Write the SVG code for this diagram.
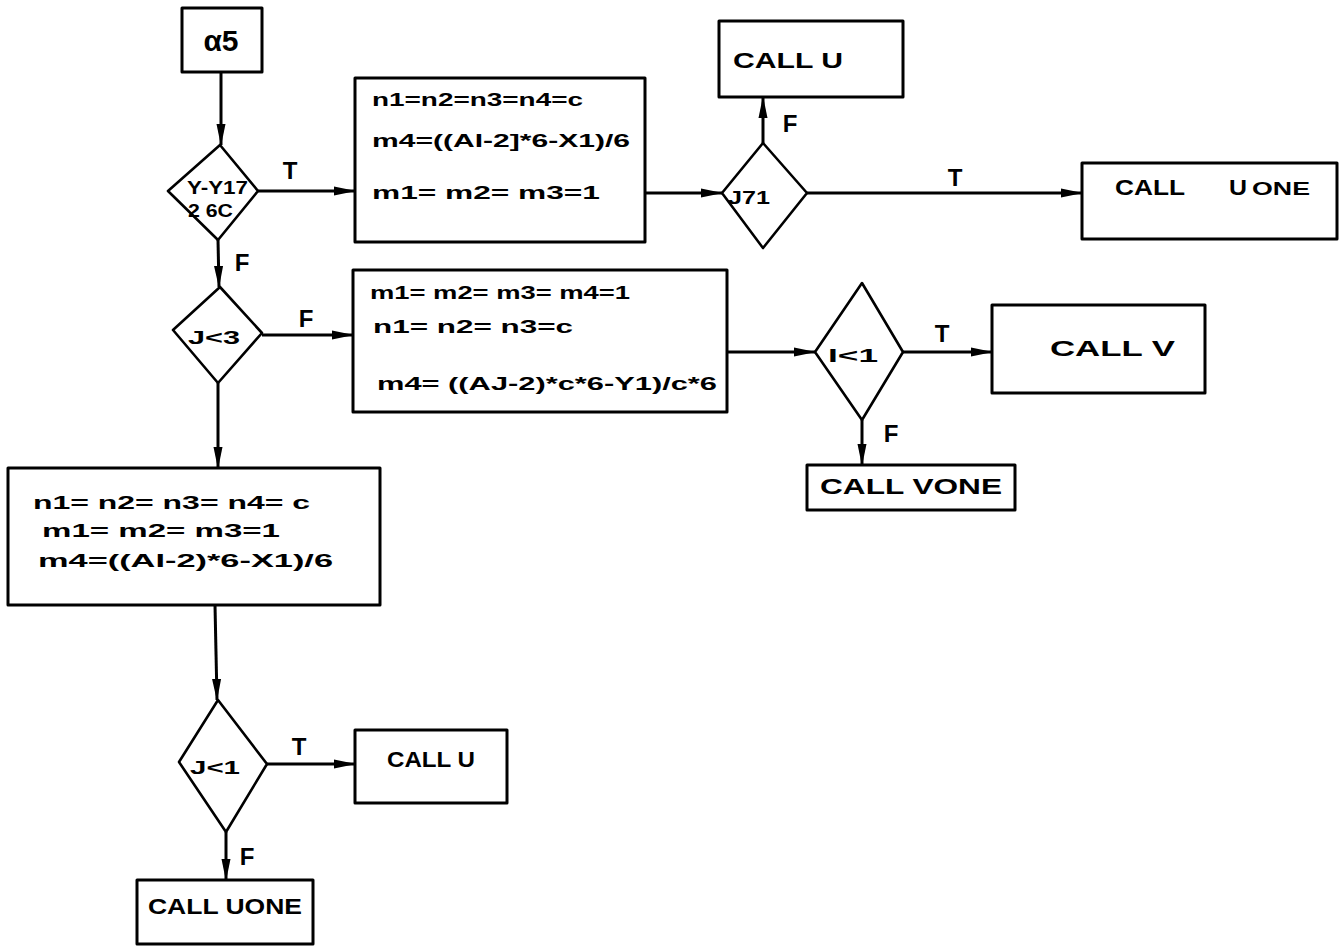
<svg xmlns="http://www.w3.org/2000/svg" width="1340" height="946" viewBox="0 0 1340 946">
  <defs>
    <marker id="arr" markerWidth="22" markerHeight="11" refX="21" refY="5.5" orient="auto" markerUnits="userSpaceOnUse">
      <path d="M0,1 L22,5.5 L0,10 z" fill="#000"/>
    </marker>
    <style>
      .box{fill:none;stroke:#000;stroke-width:3;stroke-linejoin:round}
      .dia{fill:none;stroke:#000;stroke-width:2.6;stroke-linejoin:round}
      .edge{fill:none;stroke:#000;stroke-width:3;marker-end:url(#arr)}
      .t{font-family:"Liberation Sans",Arial,sans-serif;font-weight:bold;fill:#000}
      .eq{font-size:18px}
      .call{font-size:22px}
      .cond{font-size:18px}
      .lbl{font-size:24px}
    </style>
  </defs>
  <rect width="1340" height="946" fill="#fff"/>

  <!-- connectors -->
  <g id="connectors">
    <path class="edge" d="M221,72 L221,145"/>
    <path class="edge" d="M258,191 L355,191"/>
    <path class="edge" d="M218,240 L219,287"/>
    <path class="edge" d="M645,193 L722,193"/>
    <path class="edge" d="M763,143 L763,97"/>
    <path class="edge" d="M807,193 L1082,193"/>
    <path class="edge" d="M262,335 L353,335"/>
    <path class="edge" d="M727,352 L815,352"/>
    <path class="edge" d="M903,352 L992,352"/>
    <path class="edge" d="M862,420 L862,465"/>
    <path class="edge" d="M218,383 L218,468"/>
    <path class="edge" d="M215,605 L217,700"/>
    <path class="edge" d="M267,764 L355,764"/>
    <path class="edge" d="M226,832 L226,880"/>
    <g class="t lbl">
      <text x="290" y="179" text-anchor="middle">T</text>
      <text x="242" y="271" text-anchor="middle">F</text>
      <text x="790" y="132" text-anchor="middle">F</text>
      <text x="955" y="186" text-anchor="middle">T</text>
      <text x="306" y="327" text-anchor="middle">F</text>
      <text x="942" y="342" text-anchor="middle">T</text>
      <text x="891" y="442" text-anchor="middle">F</text>
      <text x="299" y="755" text-anchor="middle">T</text>
      <text x="247" y="865" text-anchor="middle">F</text>
    </g>
  </g>

  <!-- entry -->
  <g id="start-a5">
    <rect class="box" x="182" y="8" width="80" height="64"/>
    <text class="t" x="221" y="51" font-size="30" text-anchor="middle">α5</text>
  </g>

  <!-- decision: Y-Y1 -->
  <g id="dec-y">
    <polygon class="dia" points="220,145 258,191 218,240 168,191"/>
    <text class="t cond" x="187" y="194" textLength="61" lengthAdjust="spacingAndGlyphs">Y-Y17</text>
    <text class="t cond" x="188" y="217" textLength="45" lengthAdjust="spacingAndGlyphs">2 6C</text>
  </g>

  <g id="proc-1">
    <rect class="box" x="355" y="78" width="290" height="164"/>
    <text class="t eq" x="372" y="106" textLength="211" lengthAdjust="spacingAndGlyphs">n1=n2=n3=n4=c</text>
    <text class="t eq" x="372" y="147" textLength="258" lengthAdjust="spacingAndGlyphs">m4=((AI-2]*6-X1)/6</text>
    <text class="t eq" x="372" y="199" textLength="228" lengthAdjust="spacingAndGlyphs">m1= m2= m3=1</text>
  </g>

  <g id="dec-j71">
    <polygon class="dia" points="763,143 807,193 763,248 722,193"/>
    <text class="t cond" x="728" y="204" font-size="20" textLength="42" lengthAdjust="spacingAndGlyphs">J71</text>
  </g>

  <g id="call-u-top">
    <rect class="box" x="719" y="21" width="184" height="76"/>
    <text class="t call" x="733" y="68" textLength="110" lengthAdjust="spacingAndGlyphs">CALL U</text>
  </g>

  <g id="call-uone-top">
    <rect class="box" x="1082" y="163" width="255" height="76"/>
    <text class="t call" y="195"><tspan x="1115" textLength="70" lengthAdjust="spacingAndGlyphs">CALL</tspan><tspan x="1229" textLength="18" lengthAdjust="spacingAndGlyphs">U</tspan><tspan x="1252" font-size="18" textLength="58" lengthAdjust="spacingAndGlyphs">ONE</tspan></text>
  </g>

  <g id="dec-j3">
    <polygon class="dia" points="220,287 262,333 218,383 173,330"/>
    <text class="t cond" x="188" y="344" font-size="20" textLength="52" lengthAdjust="spacingAndGlyphs">J&lt;3</text>
  </g>

  <g id="proc-2">
    <rect class="box" x="353" y="270" width="374" height="142"/>
    <text class="t eq" x="370" y="299" textLength="260" lengthAdjust="spacingAndGlyphs">m1= m2= m3= m4=1</text>
    <text class="t eq" x="373" y="333" textLength="200" lengthAdjust="spacingAndGlyphs">n1= n2= n3=c</text>
    <text class="t eq" x="377" y="390" font-size="20" textLength="340" lengthAdjust="spacingAndGlyphs">m4= ((AJ-2)*c*6-Y1)/c*6</text>
  </g>

  <g id="dec-i1">
    <polygon class="dia" points="862,283 903,352 862,420 815,352"/>
    <text class="t cond" x="828" y="362" font-size="20" textLength="50" lengthAdjust="spacingAndGlyphs">I&lt;1</text>
  </g>

  <g id="call-v">
    <rect class="box" x="992" y="305" width="213" height="88"/>
    <text class="t call" x="1050" y="356" textLength="125" lengthAdjust="spacingAndGlyphs">CALL  V</text>
  </g>

  <g id="call-vone">
    <rect class="box" x="807" y="465" width="208" height="45"/>
    <text class="t call" x="820" y="494" font-size="20" textLength="182" lengthAdjust="spacingAndGlyphs">CALL  VONE</text>
  </g>

  <g id="proc-3">
    <rect class="box" x="8" y="468" width="372" height="137"/>
    <text class="t eq" x="33" y="509" textLength="277" lengthAdjust="spacingAndGlyphs">n1= n2= n3= n4= c</text>
    <text class="t eq" x="42" y="537" textLength="238" lengthAdjust="spacingAndGlyphs">m1= m2= m3=1</text>
    <text class="t eq" x="38" y="567" font-size="20" textLength="295" lengthAdjust="spacingAndGlyphs">m4=((AI-2)*6-X1)/6</text>
  </g>

  <g id="dec-j1">
    <polygon class="dia" points="218,700 267,764 226,832 179,762"/>
    <text class="t cond" x="190" y="774" font-size="20" textLength="50" lengthAdjust="spacingAndGlyphs">J&lt;1</text>
  </g>

  <g id="call-u-low">
    <rect class="box" x="355" y="730" width="152" height="73"/>
    <text class="t call" x="387" y="767" font-size="20" textLength="88" lengthAdjust="spacingAndGlyphs">CALL U</text>
  </g>

  <g id="call-uone-low">
    <rect class="box" x="137" y="880" width="176" height="64"/>
    <text class="t call" x="148" y="914" font-size="20" textLength="154" lengthAdjust="spacingAndGlyphs">CALL UONE</text>
  </g>
</svg>
